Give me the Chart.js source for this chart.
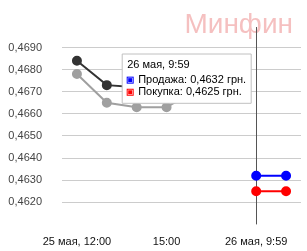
<!DOCTYPE html>
<html>
<head>
<meta charset="utf-8">
<script src="https://cdn.jsdelivr.net/npm/chart.js@4"></script>
<style>
  html, body { margin: 0; padding: 0; background: #fff; }
</style>
</head>
<body>
<canvas id="rates" width="307" height="251"></canvas>
<script>
const labels = ['25 мая, 12:00', '13:00', '14:00', '15:00', '16:00', '17:00', '26 мая, 9:59', '26 мая, 10:59'];
const shownLabels = [0, 3, 6];
const prevSale = [0.4684, 0.4673, 0.4672, 0.4672, 0.4678, null, null, null];
const prevBuy = [0.4678, 0.4665, 0.4663, 0.4663, 0.4671, null, null, null];
const sale = [null, null, null, null, null, null, 0.4632, 0.4632];
const buy = [null, null, null, null, null, null, 0.4625, 0.4625];
const yTicks = [0.4620, 0.4630, 0.4640, 0.4650, 0.4660, 0.4670, 0.4680, 0.4690];
const activeIndex = 6;

const fmt = v => v.toFixed(4).replace('.', ',');

Chart.Tooltip.positioners.leftTop = function (items) {
  if (!items.length) return false;
  const area = this.chart.chartArea;
  return { x: items[0].element.x - 134, y: area.top + 25 };
};

const extras = {
  id: 'extras',
  beforeDatasetsDraw(chart) {
    const ctx = chart.ctx;
    ctx.save();
    ctx.font = '28px "Liberation Sans", Arial, sans-serif';
    ctx.fillStyle = 'rgba(236, 140, 140, 0.55)';
    ctx.textAlign = 'right';
    ctx.textBaseline = 'alphabetic';
    ctx.fillText('Минфин', chart.width - 14, 33);
    const x = chart.scales.x.getPixelForValue(activeIndex);
    ctx.strokeStyle = '#555';
    ctx.lineWidth = 1;
    ctx.beginPath();
    ctx.moveTo(Math.round(x) + 0.5, chart.chartArea.top);
    ctx.lineTo(Math.round(x) + 0.5, chart.chartArea.bottom);
    ctx.stroke();
    ctx.restore();
  }
};

const line = (label, data, color) => ({
  label, data, borderColor: color, backgroundColor: color,
  pointBackgroundColor: color, pointBorderColor: color,
  borderWidth: 2, pointRadius: 4, pointHoverRadius: 4, spanGaps: false
});

const chart = new Chart(document.getElementById('rates'), {
  type: 'line',
  data: {
    labels: labels,
    datasets: [
      line('Продажа', prevSale, '#333333'),
      line('Покупка', prevBuy, '#a0a0a0'),
      line('Продажа', sale, '#0000ff'),
      line('Покупка', buy, '#ff0000')
    ]
  },
  plugins: [extras],
  options: {
    responsive: false,
    animation: false,
    events: [],
    layout: { padding: { top: 27, right: 5, left: 0, bottom: 0 } },
    plugins: {
      legend: { display: false },
      tooltip: {
        enabled: true,
        position: 'leftTop',
        xAlign: 'left',
        yAlign: 'top',
        caretSize: 0,
        backgroundColor: '#ffffff',
        borderColor: '#c0c0c0',
        borderWidth: 1,
        cornerRadius: 0,
        titleColor: '#000',
        bodyColor: '#000',
        titleFont: { family: '"Liberation Sans", Arial', size: 11, weight: 'normal', lineHeight: 1.1 },
        bodyFont: { family: '"Liberation Sans", Arial', size: 11, lineHeight: 1.1 },
        padding: { left: 5, right: 5, top: 5, bottom: 5 },
        titleMarginBottom: 3,
        bodySpacing: 0,
        boxWidth: 6,
        boxHeight: 6,
        boxPadding: 3,
        filter: item => item.datasetIndex >= 2,
        callbacks: {
          title: items => labels[items[0].dataIndex],
          label: item => item.dataset.label + ': ' + fmt(item.parsed.y) + ' грн.',
          labelColor: item => ({ borderColor: item.dataset.borderColor, backgroundColor: item.dataset.borderColor, borderWidth: 1 })
        }
      }
    },
    scales: {
      x: {
        offset: true,
        grid: { display: false },
        border: { display: false },
        afterFit: s => { s.height = 24; },
        ticks: {
          autoSkip: false,
          maxRotation: 0,
          padding: 3,
          color: '#111',
          font: { family: '"Liberation Sans", Arial', size: 11 },
          callback: (v, i) => shownLabels.includes(i) ? labels[i] : ''
        }
      },
      y: {
        min: 0.4610,
        max: 0.46993,
        afterFit: s => { s.width = 62; },
        afterBuildTicks: s => { s.ticks = yTicks.map(v => ({ value: v })); },
        grid: { color: '#cccccc', drawTicks: false },
        border: { display: false },
        ticks: {
          padding: 20,
          color: '#444',
          font: { family: '"Liberation Sans", Arial', size: 11 },
          callback: v => fmt(v)
        }
      }
    }
  }
});

chart.tooltip.setActiveElements(
  [{ datasetIndex: 2, index: activeIndex }, { datasetIndex: 3, index: activeIndex }],
  { x: 0, y: 0 }
);
chart.update();
</script>
</body>
</html>
